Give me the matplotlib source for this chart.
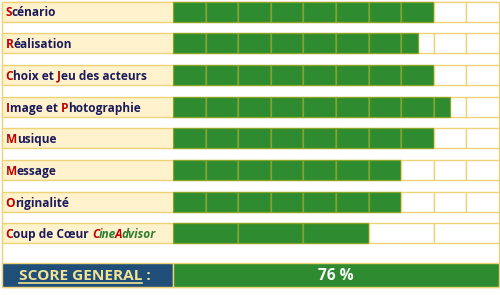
import matplotlib.pyplot as plt
from matplotlib.patches import Rectangle

# Critères et notes (sur 10)
criteres = ['Scénario', 'Réalisation', 'Choix et Jeu des acteurs', 'Image et Photographie',
            'Musique', 'Message', 'Originalité', 'Coup de Cœur CineAdvisor']
notes = [8, 7.5, 8, 8.5, 8, 7, 7, 6]
nb_cases = [10, 10, 10, 10, 10, 10, 10, 5]
score_general = 76

# lettres en rouge (index) et début de la partie en italique vert
rouges = [[0], [0], [0, 9], [0, 9], [0], [0], [0], [0, 13, 17]]
italiques = [None, None, None, None, None, None, None, 13]

ROUGE = '#C00000'
MARINE = '#1B1B5C'
VERT_TXT = '#2E7D32'
CREME = '#FFF2CC'
JAUNE = '#F0D276'
VERT = '#2E8B30'
OLIVE = '#86A526'
BLEU = '#1F4E79'
JAUNE_TXT = '#F2E394'
POLICE = 'Open Sans'

fig = plt.figure(figsize=(5, 2.95), dpi=100)
ax = fig.add_axes([0, 0, 1, 1])
ax.set_xlim(0, 500)
ax.set_ylim(295, 0)
ax.axis('off')

x0, xs, x1 = 2, 173, 499
ax2 = fig.add_axes([xs / 500, 0, (x1 - xs) / 500, 1])
ax2.set_xlim(0, 10)
ax2.set_ylim(295, 0)
ax2.axis('off')

renderer = fig.canvas.get_renderer()


def largeur(s, **kw):
    t = ax.text(0, 0, s, **kw)
    w = t.get_window_extent(renderer).width
    t.remove()
    return w


def decoupe(label, rg, ital):
    morceaux = []
    for i, c in enumerate(label):
        it = ital is not None and i >= ital
        if i in rg:
            col = ROUGE
        elif it:
            col = VERT_TXT
        else:
            col = MARINE
        if morceaux and morceaux[-1][1] == col and morceaux[-1][2] == it and i not in rg:
            morceaux[-1][0] += c
        else:
            morceaux.append([c, col, it])
    return morceaux


def texte_multi(x, y, morceaux, size):
    for j, (s, col, it) in enumerate(morceaux):
        style = 'italic' if it else 'normal'
        ax.text(x, y, s, color=col, fontsize=size, fontweight='bold', style=style,
                family=POLICE, va='baseline', ha='left')
        if j + 1 < len(morceaux):
            nxt = morceaux[j + 1][0][0]
            kw = dict(fontsize=size, fontweight='bold', style=style, family=POLICE)
            x += largeur(s + nxt, **kw) - largeur(nxt, **kw)
            if it:
                x -= 0.7  # resserre un peu l'italique


# cadre général
ax.add_patch(Rectangle((x0, 1.5), x1 - x0, 285.5, fc='white', ec=JAUNE, lw=1))

haut = 20
for i, lab in enumerate(criteres):
    top = 1.5 + 31.7 * i
    yc = top + haut / 2
    ax.add_patch(Rectangle((x0, top), xs - x0, haut, fc=CREME, ec=JAUNE, lw=1))
    texte_multi(5.5, top + 15, decoupe(lab, rouges[i], italiques[i]), 8.6)

    pas = 10 / nb_cases[i]
    for k in range(nb_cases[i]):
        gauche = k * pas
        ax2.barh(yc, pas, left=gauche, height=haut, color='white', edgecolor=JAUNE, lw=1)
        w = min(max(notes[i] - gauche, 0), pas)
        if w > 0:
            ax2.barh(yc, w, left=gauche, height=haut, color=VERT, edgecolor=OLIVE, lw=0.9)

# score général
ax.add_patch(Rectangle((x0, 263), xs - x0, 24, fc=BLEU, ec=JAUNE, lw=1))
ax.add_patch(Rectangle((xs, 263), x1 - xs, 24, fc=VERT, ec=JAUNE, lw=1))
ax.text(19, 280.5, 'SCORE GENERAL :', color=JAUNE_TXT, fontsize=11.1, fontweight='bold',
        family=POLICE, va='baseline', ha='left')
wsg = largeur('SCORE GENERAL', fontsize=11.1, fontweight='bold', family=POLICE)
ax.plot([19, 19 + wsg], [282.8, 282.8], color=JAUNE_TXT, lw=1.2)
ax.text((xs + x1) / 2, 280.5, f'{score_general} %', color='white', fontsize=11.2,
        fontweight='bold', family=POLICE, va='baseline', ha='center')

fig.savefig('out.png', dpi=100)
